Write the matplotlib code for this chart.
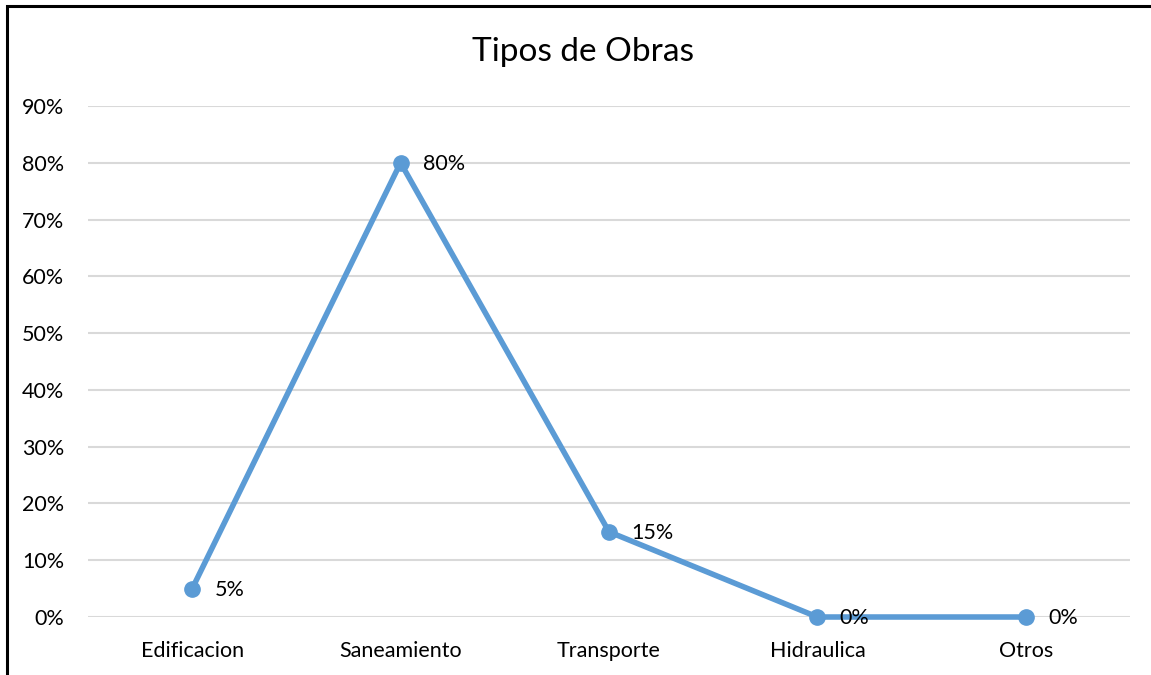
import numpy as np
import matplotlib.pyplot as plt
from matplotlib.patches import Rectangle
from matplotlib.ticker import PercentFormatter

categorias = ['Edificacion', 'Saneamiento', 'Transporte', 'Hidraulica', 'Otros']
valores = [0.05, 0.80, 0.15, 0.0, 0.0]
etiquetas = ['5%', '80%', '15%', '0%', '0%']
yticks = np.arange(0, 0.91, 0.1)

plt.rcParams['font.family'] = ['Lato', 'DejaVu Sans']

fig = plt.figure(figsize=(11.51, 6.75), dpi=100)
ax = fig.add_axes([88/1151, 58/675, 1042/1151, 511/675])

x = np.arange(len(categorias))
ax.plot(x, valores, color='#5B9BD5', linewidth=4, marker='o', markersize=11,
        zorder=3, clip_on=False)
for xi, v, lab in zip(x, valores, etiquetas):
    ax.annotate(lab, (xi, v), xytext=(16, -1), textcoords='offset points',
                ha='left', va='center', fontsize=15.5, color='#000000', zorder=4)

ax.set_xlim(-0.5, len(categorias) - 0.5)
ax.set_ylim(0, 0.9)
ax.set_yticks(yticks)
ax.yaxis.set_major_formatter(PercentFormatter(1.0, decimals=0))
ax.set_xticks(x)
ax.set_xticklabels(categorias)
ax.tick_params(length=0, labelsize=15.5, colors='#000000')
ax.tick_params(axis='y', pad=17)
ax.tick_params(axis='x', pad=17)
ax.grid(axis='y', color='#D9D9D9', linewidth=1.5)
ax.set_axisbelow(True)
for s in ax.spines.values():
    s.set_visible(False)

fig.text(583/1151, 1 - 52/675, 'Tipos de Obras', ha='center', va='center', fontsize=24)

fig.patches.append(Rectangle((7/1151, -0.1), 1.2, 1.1 - 6/675, transform=fig.transFigure,
                             fill=False, edgecolor='black', linewidth=2.2))

fig.savefig('out.png', dpi=100)
